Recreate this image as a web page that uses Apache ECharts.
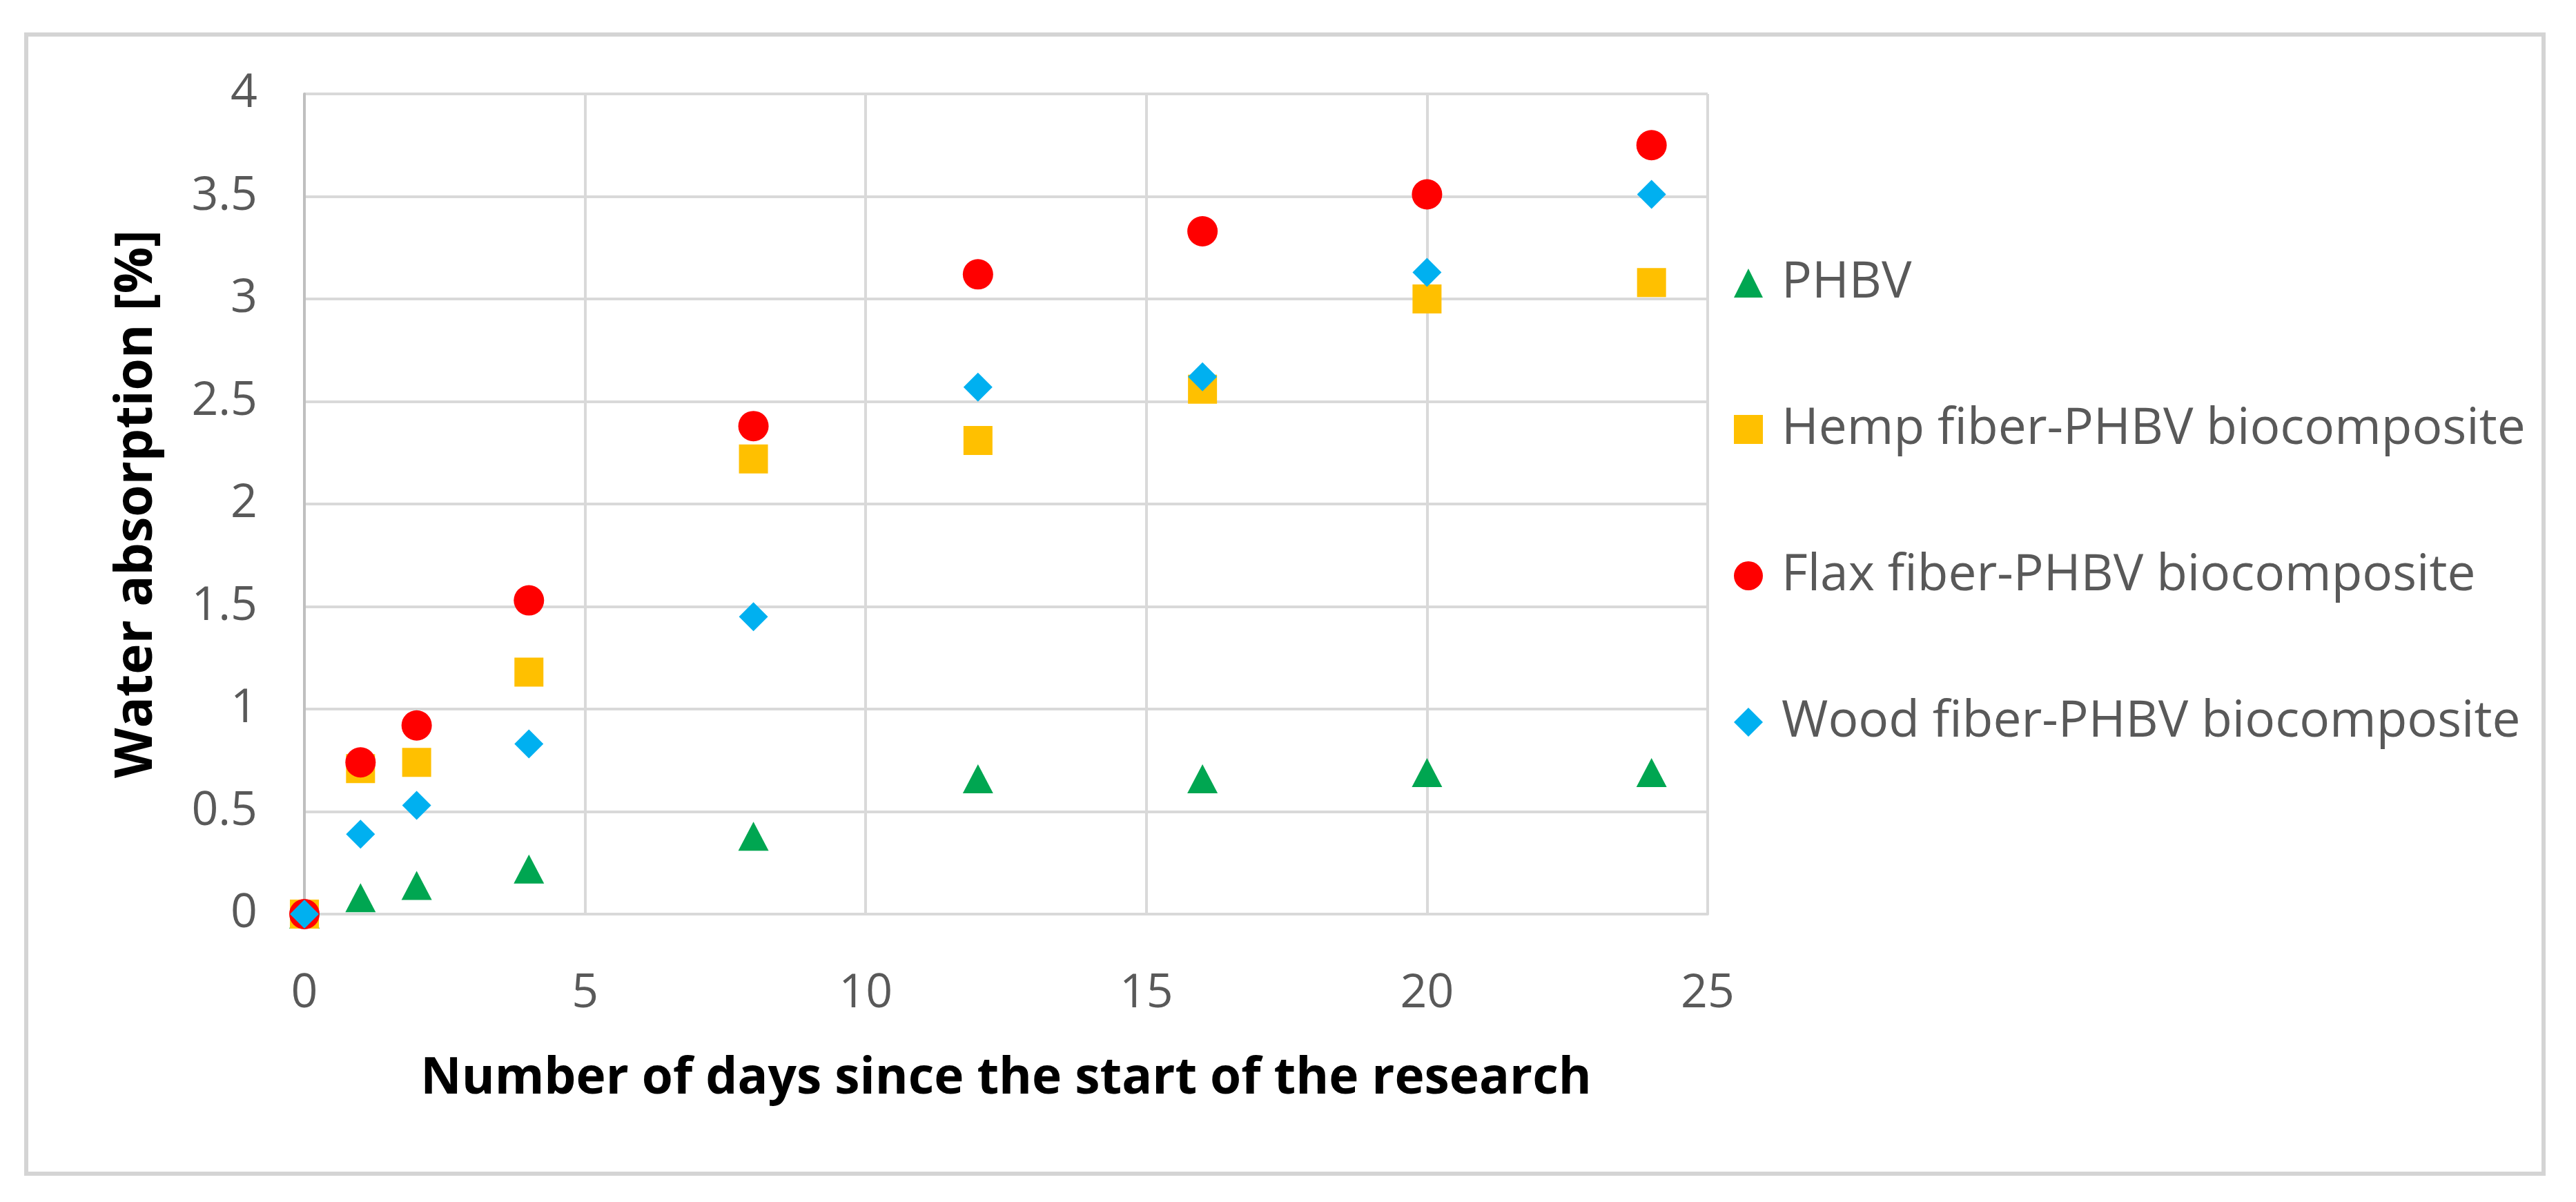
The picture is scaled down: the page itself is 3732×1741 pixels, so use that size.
<!DOCTYPE html>
<html>
<head>
<meta charset="utf-8">
<script src="https://cdn.jsdelivr.net/npm/echarts@6/dist/echarts.min.js"></script>
<style>html,body{margin:0;padding:0;background:#fff;}#c{width:3732px;height:1741px;}</style>
</head>
<body>
<div id="c"></div>
<script>
const days = [0, 1, 2, 4, 8, 12, 16, 20, 24];
const seriesNames = ['PHBV', 'Hemp fiber-PHBV biocomposite', 'Flax fiber-PHBV biocomposite', 'Wood fiber-PHBV biocomposite'];
const phbv = [0, 0.08, 0.14, 0.22, 0.38, 0.66, 0.66, 0.69, 0.69];
const hemp = [0, 0.71, 0.74, 1.18, 2.22, 2.31, 2.56, 3.0, 3.08];
const flax = [0, 0.74, 0.92, 1.53, 2.38, 3.12, 3.33, 3.51, 3.75];
const wood = [0, 0.39, 0.53, 0.83, 1.45, 2.57, 2.62, 3.13, 3.51];
const xTicks = [0, 5, 10, 15, 20, 25];
const yTicks = [0, 0.5, 1, 1.5, 2, 2.5, 3, 3.5, 4];

const colors = ['#00A651', '#FFC000', '#FF0000', '#00B0F0'];
const symbols = ['triangle', 'rect', 'circle', 'diamond'];
const sizes = [[44, 42], 42, 44, 42];
const values = [phbv, hemp, flax, wood];

const chart = echarts.init(document.getElementById('c'), null, {renderer: 'canvas'});
const font = 'Open Sans';
chart.setOption({
  backgroundColor: '#ffffff',
  animation: false,
  graphic: [{
    type: 'rect', silent: true, z: -1,
    shape: {x: 38, y: 50, width: 3647, height: 1650},
    style: {fill: 'none', stroke: '#d4d4d4', lineWidth: 6}
  }],
  grid: {left: 441, right: 1258, top: 136, bottom: 417, containLabel: false},
  legend: {
    orient: 'vertical', left: 2507, top: 364,
    itemWidth: 42, itemHeight: 42, itemGap: 130,
    data: seriesNames,
    textStyle: {fontFamily: font, fontSize: 73, color: '#595959', lineHeight: 82, padding: [0, 0, 0, 22]}
  },
  xAxis: {
    type: 'value', min: xTicks[0], max: xTicks[xTicks.length - 1], interval: 5,
    name: 'Number of days since the start of the research',
    nameLocation: 'middle', nameGap: 203,
    nameTextStyle: {fontFamily: font, fontSize: 73, fontWeight: 'bold', color: '#000'},
    axisLine: {show: true, lineStyle: {color: '#d9d9d9', width: 4}},
    axisTick: {show: false},
    axisLabel: {fontFamily: font, fontSize: 68, color: '#595959', margin: 82},
    splitLine: {show: true, lineStyle: {color: '#d9d9d9', width: 4}}
  },
  yAxis: {
    type: 'value', min: yTicks[0], max: yTicks[yTicks.length - 1], interval: 0.5,
    name: 'Water absorption [%]',
    nameLocation: 'middle', nameGap: 205, nameRotate: 90,
    nameTextStyle: {fontFamily: font, fontSize: 75, fontWeight: 'bold', color: '#000'},
    axisLine: {show: true, lineStyle: {color: '#bfbfbf', width: 4}},
    axisTick: {show: false},
    axisLabel: {fontFamily: font, fontSize: 68, color: '#595959', margin: 68},
    splitLine: {show: true, lineStyle: {color: '#d9d9d9', width: 4}}
  },
  series: seriesNames.map((n, i) => ({
    name: n, type: 'scatter',
    symbol: symbols[i], symbolSize: sizes[i],
    itemStyle: {color: colors[i], opacity: 1},
    data: days.map((d, j) => [d, values[i][j]]),
    z: 2 + i
  }))
});
</script>
</body>
</html>
